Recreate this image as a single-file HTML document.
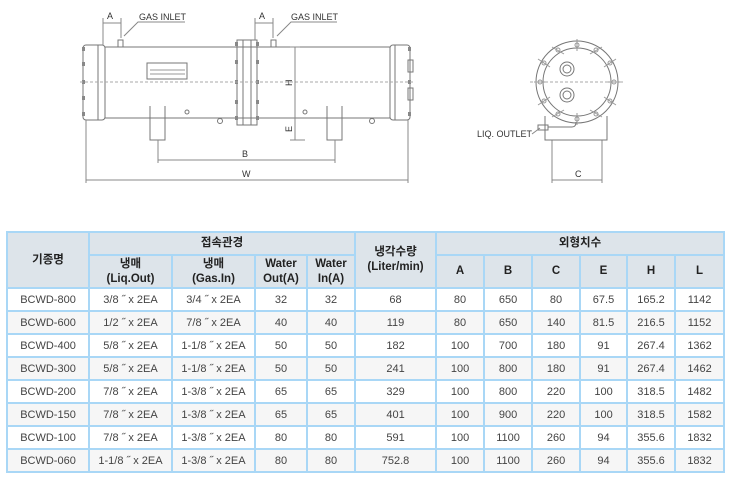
<!DOCTYPE html>
<html><head><meta charset="utf-8"><style>
body{margin:0;width:732px;height:478px;background:#fff;position:relative;overflow:hidden;font-family:"Liberation Sans","Noto Sans CJK KR",sans-serif}
svg{position:absolute;left:0;top:0}
table{position:absolute;left:6px;top:231px;border-collapse:collapse;table-layout:fixed;width:719px}
td{border:2px solid #a9d7f6;text-align:center;font-size:11px;color:#444;padding:0;height:21px;line-height:12px}
tr.h td{background:#dde4ea;font-weight:bold;color:#222;font-size:11.5px;line-height:15px}
tr.g td{background:#f6f6f6}
</style></head><body>
<svg width="732" height="225" viewBox="0 0 732 225" fill="none" stroke="#777" stroke-width="1">
<rect x="83" y="45" width="22" height="75" rx="3"/>
<line x1="98" y1="45" x2="98" y2="120"/>
<rect x="105" y="47" width="285" height="71"/>
<rect x="237" y="40" width="20" height="85"/>
<line x1="243" y1="40" x2="243" y2="125"/><line x1="251" y1="40" x2="251" y2="125"/>
<rect x="390" y="45" width="20" height="75" rx="3"/>
<line x1="395" y1="45" x2="395" y2="120"/>
<rect x="408" y="60" width="5" height="12"/><rect x="408" y="88" width="5" height="12"/>
<g fill="#888" stroke="none">
<rect x="82" y="47" width="3" height="4"/><rect x="82" y="62" width="3" height="4"/><rect x="82" y="80" width="3" height="4"/><rect x="82" y="96" width="3" height="4"/><rect x="82" y="112" width="3" height="4"/>
<rect x="235" y="42" width="3" height="4"/><rect x="235" y="60" width="3" height="4"/><rect x="235" y="80" width="3" height="4"/><rect x="235" y="100" width="3" height="4"/><rect x="235" y="116" width="3" height="4"/>
<rect x="256" y="42" width="3" height="4"/><rect x="256" y="60" width="3" height="4"/><rect x="256" y="80" width="3" height="4"/><rect x="256" y="100" width="3" height="4"/><rect x="256" y="116" width="3" height="4"/>
<rect x="408" y="47" width="3" height="4"/><rect x="408" y="80" width="3" height="4"/><rect x="408" y="112" width="3" height="4"/>
</g>
<line x1="80" y1="82" x2="415" y2="82" stroke-dasharray="3,2" stroke="#aaa"/>
<path d="M150 106V140H165V106M327 106V140H342V106"/>
<rect x="118" y="40" width="5" height="7"/><rect x="271" y="40" width="5" height="7"/>
<rect x="147" y="63" width="40" height="16"/><line x1="150" y1="70" x2="185" y2="70" stroke="#999"/><line x1="150" y1="74" x2="185" y2="74" stroke="#999"/>
<circle cx="187" cy="112" r="2"/><circle cx="305" cy="112" r="2"/><circle cx="220" cy="121" r="2.5"/><circle cx="372" cy="121" r="2.5"/>
<line x1="220" y1="118" x2="220" y2="119"/>
<g stroke="#888"><line x1="103" y1="23" x2="121" y2="23"/><line x1="103" y1="18" x2="103" y2="45"/><line x1="121" y1="18" x2="121" y2="38"/>
<line x1="255" y1="23" x2="273" y2="23"/><line x1="255" y1="18" x2="255" y2="40"/><line x1="273" y1="18" x2="273" y2="38"/>
<path d="M124 36L138 22H185M277 36L291 22H337"/>
<line x1="295" y1="47" x2="295" y2="140"/><line x1="290" y1="47" x2="300" y2="47"/><line x1="290" y1="140" x2="305" y2="140"/>
<line x1="158" y1="160" x2="335" y2="160"/><line x1="158" y1="140" x2="158" y2="163"/><line x1="335" y1="140" x2="335" y2="163"/>
<line x1="86" y1="180" x2="408" y2="180"/><line x1="86" y1="120" x2="86" y2="183"/><line x1="408" y1="120" x2="408" y2="183"/>
<line x1="552" y1="180" x2="602" y2="180"/><line x1="552" y1="140" x2="552" y2="183"/><line x1="602" y1="140" x2="602" y2="183"/></g>
<circle cx="577" cy="82" r="41"/><circle cx="577" cy="82" r="34"/>
<g stroke="#999">
<circle cx="577" cy="45" r="2"/><circle cx="596" cy="50" r="2"/><circle cx="610" cy="63" r="2"/><circle cx="614" cy="82" r="2"/><circle cx="610" cy="101" r="2"/><circle cx="596" cy="114" r="2"/><circle cx="577" cy="119" r="2"/><circle cx="558" cy="114" r="2"/><circle cx="544" cy="101" r="2"/><circle cx="540" cy="82" r="2"/><circle cx="544" cy="63" r="2"/><circle cx="558" cy="50" r="2"/>
<path d="M577 39V51M602 47L590 54M616 59L604 67M620 82H608M616 105L604 97M602 117L590 110M577 125V113M552 117L564 110M538 105L550 97M534 82H546M538 59L550 67M552 47L564 54"/>
</g>
<circle cx="567" cy="69" r="7"/><circle cx="567" cy="69" r="4"/><circle cx="567" cy="95" r="7"/><circle cx="567" cy="95" r="4"/>
<line x1="530" y1="82" x2="625" y2="82" stroke-dasharray="3,2" stroke="#aaa"/>
<path d="M545 116V140H607V116"/>
<rect x="538" y="125" width="10" height="5"/>
<path d="M548 127H572Q576 127 576 122"/>
<path d="M532 134L540 128" stroke="#888"/>
<g fill="#333" stroke="none" font-family="Liberation Sans" font-size="9">
<text x="107" y="19">A</text><text x="259" y="19">A</text>
<text x="139" y="20">GAS INLET</text><text x="291" y="20">GAS INLET</text>
<text x="242" y="157">B</text><text x="242" y="177">W</text><text x="575" y="177">C</text>
<text x="477" y="137">LIQ. OUTLET</text>
<text transform="translate(292,86) rotate(-90)">H</text><text transform="translate(292,132) rotate(-90)">E</text>
</g>
</svg>
<table>
<colgroup><col style="width:82px"><col style="width:83px"><col style="width:83px"><col style="width:52px"><col style="width:48px"><col style="width:81px"><col style="width:48px"><col style="width:48px"><col style="width:48px"><col style="width:47px"><col style="width:48px"><col style="width:49px"></colgroup>
<tr class="h"><td rowspan="2">기종명</td><td colspan="4" style="height:20px">접속관경</td><td rowspan="2">냉각수량<br>(Liter/min)</td><td colspan="6">외형치수</td></tr>
<tr class="h"><td style="height:31px">냉매<br>(Liq.Out)</td><td>냉매<br>(Gas.In)</td><td>Water<br>Out(A)</td><td>Water<br>In(A)</td><td>A</td><td>B</td><td>C</td><td>E</td><td>H</td><td>L</td></tr>
<tr><td>BCWD-800</td><td>3/8 ˝ x 2EA</td><td>3/4 ˝ x 2EA</td><td>32</td><td>32</td><td>68</td><td>80</td><td>650</td><td>80</td><td>67.5</td><td>165.2</td><td>1142</td></tr>
<tr class="g"><td>BCWD-600</td><td>1/2 ˝ x 2EA</td><td>7/8 ˝ x 2EA</td><td>40</td><td>40</td><td>119</td><td>80</td><td>650</td><td>140</td><td>81.5</td><td>216.5</td><td>1152</td></tr>
<tr><td>BCWD-400</td><td>5/8 ˝ x 2EA</td><td>1-1/8 ˝ x 2EA</td><td>50</td><td>50</td><td>182</td><td>100</td><td>700</td><td>180</td><td>91</td><td>267.4</td><td>1362</td></tr>
<tr class="g"><td>BCWD-300</td><td>5/8 ˝ x 2EA</td><td>1-1/8 ˝ x 2EA</td><td>50</td><td>50</td><td>241</td><td>100</td><td>800</td><td>180</td><td>91</td><td>267.4</td><td>1462</td></tr>
<tr><td>BCWD-200</td><td>7/8 ˝ x 2EA</td><td>1-3/8 ˝ x 2EA</td><td>65</td><td>65</td><td>329</td><td>100</td><td>800</td><td>220</td><td>100</td><td>318.5</td><td>1482</td></tr>
<tr class="g"><td>BCWD-150</td><td>7/8 ˝ x 2EA</td><td>1-3/8 ˝ x 2EA</td><td>65</td><td>65</td><td>401</td><td>100</td><td>900</td><td>220</td><td>100</td><td>318.5</td><td>1582</td></tr>
<tr><td>BCWD-100</td><td>7/8 ˝ x 2EA</td><td>1-3/8 ˝ x 2EA</td><td>80</td><td>80</td><td>591</td><td>100</td><td>1100</td><td>260</td><td>94</td><td>355.6</td><td>1832</td></tr>
<tr class="g"><td>BCWD-060</td><td>1-1/8 ˝ x 2EA</td><td>1-3/8 ˝ x 2EA</td><td>80</td><td>80</td><td>752.8</td><td>100</td><td>1100</td><td>260</td><td>94</td><td>355.6</td><td>1832</td></tr>
</table>
</body></html>
